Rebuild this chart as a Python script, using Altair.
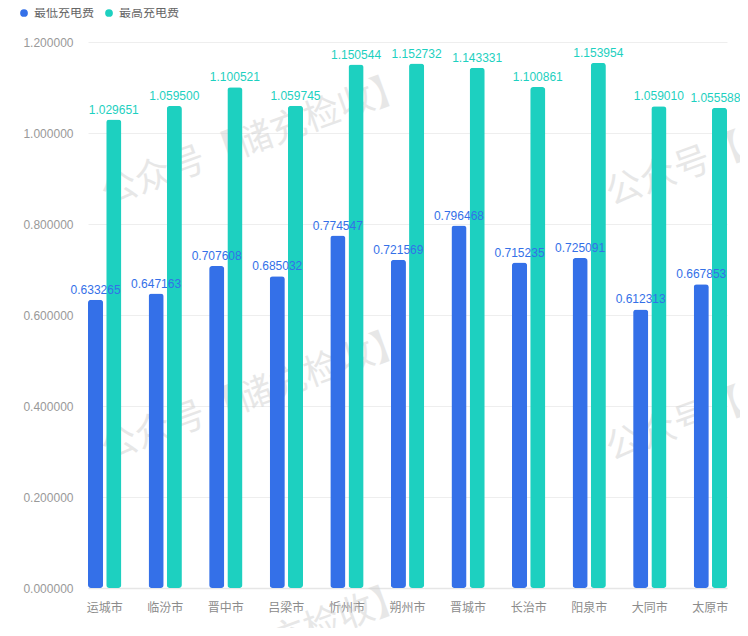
import altair as alt
import pandas as pd

cities = ["运城市", "临汾市", "晋中市", "吕梁市", "忻州市", "朔州市", "晋城市", "长治市", "阳泉市", "大同市", "太原市"]
min_fee = [0.633265, 0.647163, 0.707608, 0.685032, 0.774547, 0.721569, 0.796468, 0.715235, 0.725091, 0.612313, 0.667853]
max_fee = [1.029651, 1.059500, 1.100521, 1.059745, 1.150544, 1.152732, 1.143331, 1.100861, 1.153954, 1.059010, 1.055588]
series_names = ["最低充电费", "最高充电费"]
colors = ["#3470e8", "#1dd0c0"]

rows = []
for c, lo, hi in zip(cities, min_fee, max_fee):
    rows.append({"city": c, "series": series_names[0], "value": lo})
    rows.append({"city": c, "series": series_names[1], "value": hi})
df = pd.DataFrame(rows)
is_edge = (df["city"] == cities[-1]) & (df["series"] == series_names[1])
df_main = df[~is_edge]
df_edge = df[is_edge]

wm_text = "公众号【储充检收】"
wm_pos = [(167, 98), (167, 353), (167, 608), (672, 98), (672, 353)]
wm_df = pd.DataFrame({"t": [wm_text]})

FONT = "Liberation Sans, Noto Sans CJK SC"
CJK = "Noto Sans CJK SC"

x_enc = alt.X("city:N", sort=cities,
              scale=alt.Scale(paddingInner=0.45, paddingOuter=0.0),
              axis=alt.Axis(title=None, labelAngle=0, labelColor="#8c8c8c", labelFontSize=12,
                            labelPadding=14, ticks=False, domain=True, domainColor="#e6e6e6",
                            domainWidth=1.5, grid=False, labelFont=CJK))
xo_enc = alt.XOffset("series:N", sort=series_names, scale=alt.Scale(paddingInner=0.17, paddingOuter=0))
y_scale = alt.Scale(domain=[0, 1.2], nice=False)
color_scale = alt.Scale(domain=series_names, range=colors)

watermarks = [
    alt.Chart(wm_df).mark_text(fontSize=36, angle=340, color="#cccccc", opacity=0.45, font=CJK).encode(
        x=alt.value(px), y=alt.value(py), text="t:N")
    for px, py in wm_pos
]

bars = alt.Chart(df).mark_bar(cornerRadiusTopLeft=3, cornerRadiusTopRight=3,
                              cornerRadiusBottomLeft=3, cornerRadiusBottomRight=3).encode(
    x=x_enc,
    xOffset=xo_enc,
    y=alt.Y("value:Q", scale=y_scale,
            axis=alt.Axis(title=None, values=[0, 0.2, 0.4, 0.6, 0.8, 1.0, 1.2], format=".6f",
                          labelColor="#999999", labelFontSize=12, labelPadding=15, ticks=False,
                          domain=False, gridColor="#eeeeee", gridWidth=1, labelFont=FONT)),
    color=alt.Color("series:N", sort=series_names, scale=color_scale,
                    legend=alt.Legend(title=None, orient="none", legendX=-70, legendY=-35,
                                      direction="horizontal", symbolType="circle", symbolSize=60,
                                      labelFontSize=12, labelColor="#666666", columnPadding=8,
                                      symbolOffset=0, labelFont=CJK)),
)


def value_labels(data, dx):
    return alt.Chart(data).mark_text(dy=-10, dx=dx, fontSize=12, font=FONT).encode(
        x=alt.X("city:N", sort=cities),
        xOffset=xo_enc,
        y=alt.Y("value:Q", scale=y_scale),
        text=alt.Text("value:Q", format=".6f"),
        color=alt.Color("series:N", sort=series_names, scale=color_scale, legend=None),
    )


labels_main = value_labels(df_main, 0)
labels_edge = value_labels(df_edge, -4)

chart = alt.layer(*watermarks, bars, labels_main, labels_edge).properties(
    width=639, height=546,
    autosize=alt.AutoSizeParams(type="none"),
    padding={"left": 80, "top": 34, "right": 13, "bottom": 40},
).configure(font=FONT).configure_view(strokeWidth=0, stroke="transparent").configure_axisX(grid=False)

chart.save("out.html", embed_options={"renderer": "svg", "actions": False})
